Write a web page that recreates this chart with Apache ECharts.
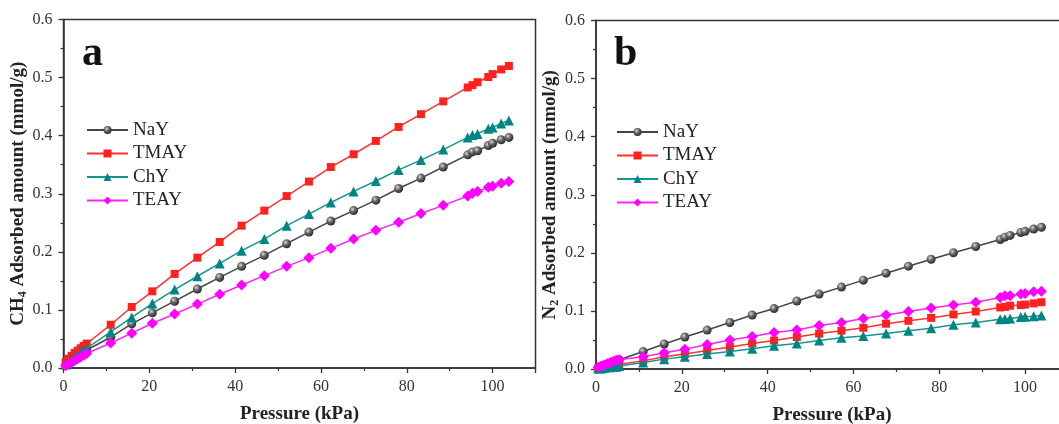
<!DOCTYPE html>
<html><head><meta charset="utf-8">
<script src="https://cdn.jsdelivr.net/npm/echarts@6/dist/echarts.min.js"></script>
<style>html,body{margin:0;padding:0;background:#fff}#c{width:1059px;height:424px}</style>
</head><body><div id="c"></div>
<script>
var pressure = [0.5,1.2,1.9,2.6,3.3,4.0,4.7,5.4,11.0,15.9,20.7,25.9,31.2,36.4,41.5,46.8,52.0,57.2,62.3,67.6,72.8,78.1,83.3,88.5,94.2,95.3,96.5,99.0,100,102,103.8];
var seriesNames = ['NaY','TMAY','ChY','TEAY'];
// Panel a: CH4
var ch4NaY  = [0.005,0.009,0.013,0.017,0.021,0.025,0.028,0.031,0.053,0.076,0.095,0.115,0.136,0.156,0.175,0.194,0.214,0.234,0.253,0.271,0.289,0.309,0.327,0.346,0.367,0.372,0.374,0.383,0.387,0.393,0.397];
var ch4TMAY = [0.010,0.016,0.021,0.026,0.030,0.034,0.038,0.042,0.0745,0.105,0.132,0.162,0.190,0.217,0.245,0.271,0.296,0.321,0.346,0.368,0.391,0.415,0.437,0.459,0.483,0.487,0.492,0.501,0.506,0.514,0.520];
var ch4ChY  = [0.006,0.010,0.014,0.018,0.022,0.026,0.030,0.034,0.062,0.087,0.111,0.135,0.158,0.180,0.202,0.222,0.245,0.265,0.285,0.304,0.322,0.341,0.358,0.376,0.397,0.401,0.403,0.412,0.414,0.421,0.426];
var ch4TEAY = [0.004,0.007,0.010,0.013,0.016,0.019,0.022,0.025,0.043,0.060,0.077,0.093,0.110,0.127,0.143,0.159,0.175,0.190,0.206,0.222,0.237,0.251,0.266,0.280,0.296,0.301,0.304,0.311,0.313,0.318,0.321];
// Panel b: N2
var n2NaY  = [0.002,0.004,0.006,0.008,0.010,0.012,0.014,0.016,0.030,0.043,0.055,0.067,0.080,0.093,0.104,0.117,0.129,0.141,0.153,0.165,0.177,0.189,0.200,0.211,0.223,0.227,0.230,0.235,0.237,0.241,0.244];
var n2TMAY = [0.001,0.002,0.003,0.004,0.005,0.006,0.007,0.008,0.014,0.021,0.026,0.032,0.038,0.044,0.049,0.055,0.061,0.066,0.071,0.078,0.083,0.088,0.094,0.099,0.106,0.107,0.109,0.110,0.111,0.113,0.115];
var n2ChY  = [0.001,0.001,0.002,0.003,0.003,0.004,0.004,0.005,0.011,0.017,0.021,0.026,0.030,0.035,0.040,0.044,0.049,0.054,0.057,0.061,0.066,0.070,0.076,0.080,0.0855,0.086,0.087,0.0896,0.090,0.091,0.092];
var n2TEAY = [0.003,0.005,0.007,0.009,0.011,0.013,0.015,0.016,0.021,0.028,0.034,0.042,0.050,0.056,0.063,0.067,0.075,0.080,0.087,0.093,0.099,0.105,0.110,0.115,0.123,0.126,0.126,0.129,0.130,0.133,0.134];
var yTicks = [0.0,0.1,0.2,0.3,0.4,0.5,0.6];
var xTicks = [0,20,40,60,80,100];

var F = 'Liberation Serif, Times New Roman, serif';
var chart = echarts.init(document.getElementById('c'), null, {renderer:'canvas'});
function pairs(ys){ return pressure.map(function(x,i){ return [x, ys[i]]; }); }
var sphere = {type:'radial', x:0.38, y:0.35, r:0.65, colorStops:[{offset:0,color:'#d8d8d8'},{offset:0.45,color:'#6a6a6a'},{offset:1,color:'#2a2a2a'}]};
var styles = [
  {line:'#444444', color:sphere, symbol:'circle', size:9},
  {line:'#ff3030', color:'#ff2020', symbol:'rect', size:8},
  {line:'#159590', color:'#008585', symbol:'triangle', size:10},
  {line:'#ff22ff', color:'#ff00ff', symbol:'diamond', size:11}
];
function mkSeries(dataArr, gi){
  return dataArr.map(function(d,i){
    var s = styles[i];
    return {name:seriesNames[i], type:'line', xAxisIndex:gi, yAxisIndex:gi, data:pairs(d),
      symbol:s.symbol, symbolSize:s.size, showSymbol:true, animation:false,
      lineStyle:{color:s.line, width:1.5}, itemStyle:{color:s.color, borderWidth:0}, z:2+i};
  });
}
function xAx(gi){
  return {type:'value', gridIndex:gi, min:0, max:110, interval:20,
    axisLine:{show:true, onZero:false, lineStyle:{color:'#333', width:1.5}},
    axisTick:{show:true, inside:false, length:5, lineStyle:{color:'#333', width:1.3}},
    minorTick:{show:true, splitNumber:2, length:3, lineStyle:{color:'#333', width:1.2}},
    splitLine:{show:false},
    axisLabel:{show:true, showMaxLabel:false, color:'#333', fontFamily:F, fontSize:16, margin:11,
      formatter:function(v){ return xTicks.indexOf(v) >= 0 ? String(v) : ''; }},
    name:'Pressure (kPa)', nameLocation:'middle', nameGap:37,
    nameTextStyle:{fontFamily:F, fontWeight:'bold', fontSize:19, color:'#222'}};
}
function yAx(gi, gas){
  return {type:'value', gridIndex:gi, min:0, max:0.6, interval:0.1,
    axisLine:{show:true, onZero:false, lineStyle:{color:'#333', width:1.5}},
    axisTick:{show:true, inside:false, length:5, lineStyle:{color:'#333', width:1.3}},
    minorTick:{show:true, splitNumber:2, length:3, lineStyle:{color:'#333', width:1.2}},
    splitLine:{show:false},
    axisLabel:{color:'#333', fontFamily:F, fontSize:16, margin:11,
      formatter:function(v){ return v.toFixed(1); }},
    name:'{t|'+gas[0]+'}{s|'+gas[1]+'}{t| Adsorbed amount (mmol/g)}', nameLocation:'middle', nameGap:30,
    nameTextStyle:{rich:{
      t:{fontFamily:F, fontWeight:'bold', fontSize:19, color:'#222', lineHeight:22},
      s:{fontFamily:F, fontWeight:'bold', fontSize:12, color:'#222', lineHeight:22, verticalAlign:'bottom', padding:[9,0,0,0]}
    }}};
}
var legendBase = {orient:'vertical', itemWidth:41, itemHeight:10, itemGap:3.5, data:seriesNames,
  textStyle:{fontFamily:F, fontSize:19, color:'#222', lineHeight:20, padding:[0,0,0,0]}, selectedMode:false};
var option = {
  backgroundColor:'#fff', animation:false,
  grid:[
    {left:63.5, top:19.5, width:472, height:348.5, show:true, borderColor:'#333', borderWidth:1.5, backgroundColor:'transparent', containLabel:false, outerBoundsMode:'none'},
    {left:596, top:20.5, width:472, height:348.5, show:true, borderColor:'#333', borderWidth:1.5, backgroundColor:'transparent', containLabel:false, outerBoundsMode:'none'}
  ],
  xAxis:[xAx(0), xAx(1)],
  yAxis:[yAx(0,['CH','4']), yAx(1,['N','2'])],
  legend:[
    Object.assign({}, legendBase, {left:81, top:115}),
    Object.assign({}, legendBase, {left:611, top:117})
  ],
  graphic:[
    {type:'text', left:82, top:33, style:{text:'a', fontFamily:F, fontWeight:'bold', fontSize:42, fill:'#111'}},
    {type:'text', left:614, top:33, style:{text:'b', fontFamily:F, fontWeight:'bold', fontSize:42, fill:'#111'}}
  ],
  series: mkSeries([ch4NaY,ch4TMAY,ch4ChY,ch4TEAY],0).concat(mkSeries([n2NaY,n2TMAY,n2ChY,n2TEAY],1))
};
chart.setOption(option);
</script></body></html>
